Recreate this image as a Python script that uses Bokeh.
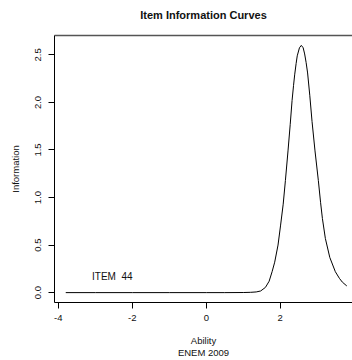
from bokeh.plotting import figure
from bokeh.models import (Range1d, LinearAxis, FixedTicker, PrintfTickFormatter,
                          Label)
from bokeh.embed import file_html
from bokeh.resources import INLINE

# ---- data ----
theta = [-3.80, -3.00, -2.00, -1.00, 0.00, 0.50, 1.00, 1.20, 1.35, 1.47,
         1.60, 1.70, 1.78, 1.85, 1.94, 2.01, 2.08, 2.14, 2.21, 2.27,
         2.32, 2.36, 2.39, 2.43, 2.46, 2.52, 2.57, 2.62, 2.66, 2.70,
         2.74, 2.80, 2.86, 2.94, 3.03, 3.09, 3.14, 3.22, 3.34, 3.49,
         3.60, 3.68, 3.80]
information = [0.000, 0.000, 0.000, 0.000, 0.000, 0.000, 0.001, 0.003, 0.007, 0.017,
               0.055, 0.120, 0.220, 0.320, 0.500, 0.710, 0.930, 1.180, 1.490, 1.770,
               2.020, 2.180, 2.290, 2.410, 2.490, 2.575, 2.600, 2.575, 2.510, 2.420,
               2.310, 2.070, 1.800, 1.490, 1.180, 0.950, 0.780, 0.570, 0.370, 0.220,
               0.150, 0.110, 0.070]
x_ticks = [-4, -2, 0, 2, 4]
y_ticks = [0.0, 0.5, 1.0, 1.5, 2.0, 2.5]
title_text = "Item Information Curves"
x_label = "Ability\nENEM 2009"
y_label = "Information"
item_text = "ITEM\u00a0\u00a044"
item_x = -2.54
item_y = 0.165

FONT = "Liberation Sans"

span = max(theta) - min(theta)
x_start = min(theta) - 0.04 * span
x_end = 3.954  # window cuts the plot region here
y_start = -0.04 * max(information)
y_end = 1.04 * max(information)

p = figure(width=352, height=360, output_backend="svg", toolbar_location=None,
           x_range=Range1d(x_start, x_end), y_range=Range1d(y_start, y_end),
           x_axis_location=None, y_axis_location=None,
           min_border_left=54, min_border_right=0, min_border_top=35,
           min_border_bottom=57)
p.grid.visible = False
p.outline_line_color = None
p.background_fill_color = "white"
p.border_fill_color = "white"

xaxis = LinearAxis(ticker=FixedTicker(ticks=x_ticks),
                   formatter=PrintfTickFormatter(format="%d"),
                   axis_label=x_label)
yaxis = LinearAxis(ticker=FixedTicker(ticks=y_ticks),
                   formatter=PrintfTickFormatter(format="%.1f"),
                   axis_label=y_label, major_label_orientation="vertical")
for ax in (xaxis, yaxis):
    ax.axis_line_color = "black"
    ax.major_tick_line_color = "black"
    ax.major_tick_out = 6
    ax.major_tick_in = 0
    ax.minor_tick_out = 0
    ax.minor_tick_in = 0
    ax.major_label_text_font = FONT
    ax.major_label_text_font_size = "9.5px"
    ax.major_label_text_color = "#111111"
    ax.axis_label_text_font = FONT
    ax.axis_label_text_font_size = "9.5px"
    ax.axis_label_text_font_style = "normal"
    ax.axis_label_text_color = "#111111"
xaxis.major_label_standoff = 6
xaxis.axis_label_standoff = 11
xaxis.axis_label_text_line_height = 1.1
yaxis.major_label_standoff = 7
yaxis.axis_label_standoff = 12
p.add_layout(xaxis, "below")
p.add_layout(yaxis, "left")

# top border of the box; its axis label carries the chart title
top = LinearAxis(ticker=FixedTicker(ticks=[]), major_tick_out=0, major_tick_in=0,
                 minor_tick_out=0, minor_tick_in=0, major_label_standoff=0,
                 major_label_text_font_size="0px", axis_line_color="#555555",
                 axis_line_width=1.3, axis_label=title_text,
                 axis_label_standoff=15, axis_label_text_font=FONT,
                 axis_label_text_font_size="11px",
                 axis_label_text_font_style="bold",
                 axis_label_text_color="#111111")
p.add_layout(top, "above")

p.line(theta, information, line_color="black", line_width=1)

p.add_layout(Label(x=item_x, y=item_y, text=item_text, text_align="center",
                   text_baseline="middle", text_font=FONT,
                   text_font_size="10px", text_color="#111111"))

open("out.html", "w").write(file_html(p, INLINE))
